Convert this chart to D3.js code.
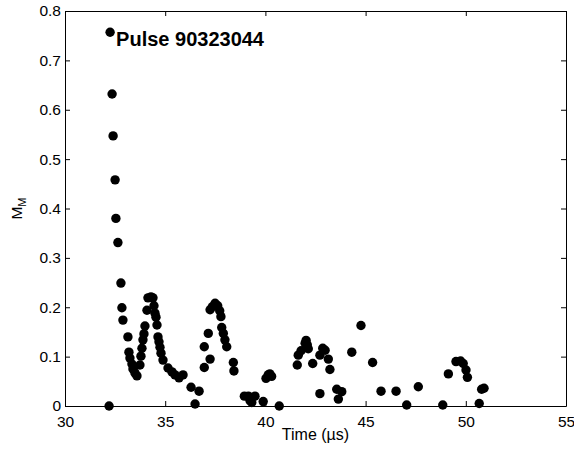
<!DOCTYPE html>
<html>
<head>
<meta charset="utf-8">
<script src="https://cdn.jsdelivr.net/npm/d3@7"></script>
<style>
  body { margin: 0; background: #fff; }
  svg text { font-family: "Liberation Sans", Arial, sans-serif; }
</style>
</head>
<body>
<div id="chart"></div>
<script>
// time (µs) and M_M for each pulse sample
const times = [
  32.25, 32.35, 32.40, 32.50, 32.54, 32.64, 32.79, 32.84, 32.89, 32.20,
  33.14, 33.19, 33.24, 33.34, 33.39, 33.49, 33.59, 33.74, 33.79, 33.84,
  33.89, 33.94, 33.99, 34.09, 34.14, 34.29, 34.39, 34.44, 34.49, 34.54,
  34.59, 34.64, 34.69, 34.74, 34.79, 34.89, 35.14, 35.34, 35.49, 35.69,
  35.89, 36.29, 36.49, 36.69, 36.95, 37.24, 36.95, 37.15, 37.24, 37.35,
  37.49, 37.62, 37.72, 37.78, 37.82, 37.90, 37.98, 38.07, 38.40, 38.43,
  38.95, 39.15, 39.23, 39.32, 39.48, 39.89, 40.69, 40.03, 40.14, 40.22,
  40.31, 41.59, 41.64, 41.78, 41.98, 42.03, 42.14, 42.09, 42.36, 42.72,
  42.72, 42.86, 42.98, 43.14, 43.22, 43.56, 43.81, 43.64, 44.31, 44.77,
  45.35, 45.77, 46.52, 47.05, 47.63, 48.85, 49.13, 49.51, 49.74, 49.87,
  50.01, 50.08, 50.67, 50.79, 50.91
];
const mm = [
  0.757, 0.632, 0.547, 0.458, 0.380, 0.331, 0.249, 0.199, 0.174, 0.000,
  0.140, 0.109, 0.097, 0.085, 0.075, 0.067, 0.061, 0.083, 0.101, 0.117,
  0.134, 0.146, 0.162, 0.194, 0.219, 0.221, 0.219, 0.203, 0.188, 0.180,
  0.164, 0.140, 0.130, 0.119, 0.107, 0.093, 0.077, 0.069, 0.063, 0.057,
  0.063, 0.038, 0.004, 0.030, 0.078, 0.095, 0.120, 0.147, 0.195, 0.201,
  0.208, 0.203, 0.193, 0.181, 0.159, 0.147, 0.134, 0.120, 0.088, 0.071,
  0.020, 0.020, 0.011, 0.007, 0.020, 0.009, 0.000, 0.056, 0.063, 0.065,
  0.060, 0.083, 0.103, 0.112, 0.127, 0.133, 0.116, 0.124, 0.086, 0.025,
  0.103, 0.117, 0.113, 0.095, 0.074, 0.034, 0.029, 0.014, 0.109, 0.163,
  0.088, 0.030, 0.030, 0.002, 0.039, 0.002, 0.065, 0.090, 0.091, 0.086,
  0.073, 0.058, 0.005, 0.034, 0.036
];
const xTicks = [30, 35, 40, 45, 50, 55];
const yTicks = [0, 0.1, 0.2, 0.3, 0.4, 0.5, 0.6, 0.7, 0.8];
const title = "Pulse 90323044";

const W = 574, H = 451;
const margin = { top: 11, right: 8, bottom: 45, left: 65 };
const width = W - margin.left - margin.right,
  height = H - margin.top - margin.bottom;

const svg = d3.select("#chart")
  .append("svg")
  .attr("width", W)
  .attr("height", H)
  .append("g")
  .attr("transform", `translate(${margin.left},${margin.top})`);

const x = d3.scaleLinear().domain([30, 55]).range([0, width]);
const y = d3.scaleLinear().domain([0, 0.8]).range([height, 0]);

const fmt = d => d === 0 ? "0" : d3.format(".1f")(d);

// axes with inward ticks, MATLAB style
const tick = 5;
svg.append("g")
  .attr("transform", `translate(0,${height})`)
  .call(d3.axisBottom(x).tickValues(xTicks).tickSize(-tick).tickSizeOuter(0))
  .call(g => g.selectAll("text").attr("dy", null).attr("y", 21));
svg.append("g")
  .call(d3.axisTop(x).tickValues(xTicks).tickSize(-tick).tickFormat("").tickSizeOuter(0));
svg.append("g")
  .call(d3.axisLeft(y).tickValues(yTicks).tickFormat(fmt).tickSize(-tick).tickPadding(4).tickSizeOuter(0));
svg.append("g")
  .attr("transform", `translate(${width},0)`)
  .call(d3.axisRight(y).tickValues(yTicks).tickFormat("").tickSize(-tick).tickSizeOuter(0));

svg.selectAll(".domain").attr("stroke", "#000").attr("stroke-width", 1);
svg.selectAll(".tick line").attr("stroke", "#000");
svg.selectAll(".tick text").attr("font-size", 15.5).attr("fill", "#000")
  .attr("font-family", "Liberation Sans, Arial, sans-serif");

// dots
svg.append("g")
  .selectAll("circle")
  .data(times.map((t, i) => [t, mm[i]]))
  .join("circle")
  .attr("cx", d => x(d[0]))
  .attr("cy", d => y(d[1]))
  .attr("r", 4.7)
  .attr("fill", "#000");

// title inside plot
svg.append("text")
  .attr("x", x(32.55))
  .attr("y", 35)
  .attr("font-size", 20)
  .attr("font-weight", "bold")
  .text(title);

// axis labels
svg.append("text")
  .attr("x", width / 2)
  .attr("y", height + 34)
  .attr("text-anchor", "middle")
  .attr("font-size", 16)
  .text("Time (µs)");

const yl = svg.append("text")
  .attr("transform", `translate(-43,${height / 2}) rotate(-90)`)
  .attr("text-anchor", "middle")
  .attr("font-size", 15.5);
yl.append("tspan").text("M");
yl.append("tspan").attr("dy", 4).attr("font-size", 11).text("M");
</script>
</body>
</html>
